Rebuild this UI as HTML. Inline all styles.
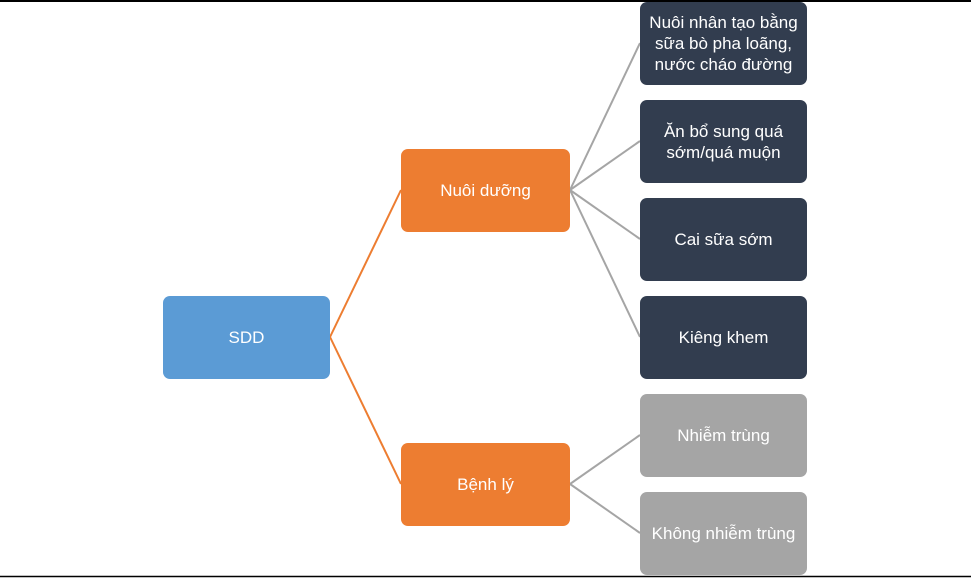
<!DOCTYPE html>
<html><head><meta charset="utf-8"><style>
body{margin:0;width:971px;height:578px;background:#fff;position:relative;overflow:hidden;font-family:"Liberation Sans","DejaVu Sans",sans-serif}
.b{position:absolute;border-radius:7px;color:#fff;display:flex;align-items:center;justify-content:center;text-align:center;font-size:17px;line-height:21px}
.d{background:#323d4f;left:640px;width:167px;height:83px}
.g{background:#a5a5a5;left:640px;width:167px;height:83px}
.o{background:#ed7d31;left:401px;width:169px;height:83px}
</style></head><body>
<svg width="971" height="578" style="position:absolute;left:0;top:0">
<line x1="0" y1="1" x2="971" y2="1" stroke="#000" stroke-width="2"/>
<line x1="0" y1="576.5" x2="971" y2="576.5" stroke="#000" stroke-width="1.5"/>
<g stroke="#ed7d31" stroke-width="2"><line x1="330" y1="337" x2="401" y2="190"/><line x1="330" y1="337" x2="401" y2="484"/></g>
<g stroke="#a5a5a5" stroke-width="2">
<line x1="570" y1="190" x2="640" y2="43"/><line x1="570" y1="190" x2="640" y2="141"/><line x1="570" y1="190" x2="640" y2="239"/><line x1="570" y1="190" x2="640" y2="337"/>
<line x1="570" y1="484" x2="640" y2="435"/><line x1="570" y1="484" x2="640" y2="533"/></g>
</svg>
<div class="b" style="background:#5b9bd5;left:163px;top:296px;width:167px;height:83px">SDD</div>
<div class="b o" style="top:149px">Nuôi dưỡng</div>
<div class="b o" style="top:443px">Bệnh lý</div>
<div class="b d" style="top:2px">Nuôi nhân tạo bằng<br>sữa bò pha loãng,<br>nước cháo đường</div>
<div class="b d" style="top:100px">Ăn bổ sung quá<br>sớm/quá muộn</div>
<div class="b d" style="top:198px">Cai sữa sớm</div>
<div class="b d" style="top:296px">Kiêng khem</div>
<div class="b g" style="top:394px">Nhiễm trùng</div>
<div class="b g" style="top:492px">Không nhiễm trùng</div>
</body></html>
